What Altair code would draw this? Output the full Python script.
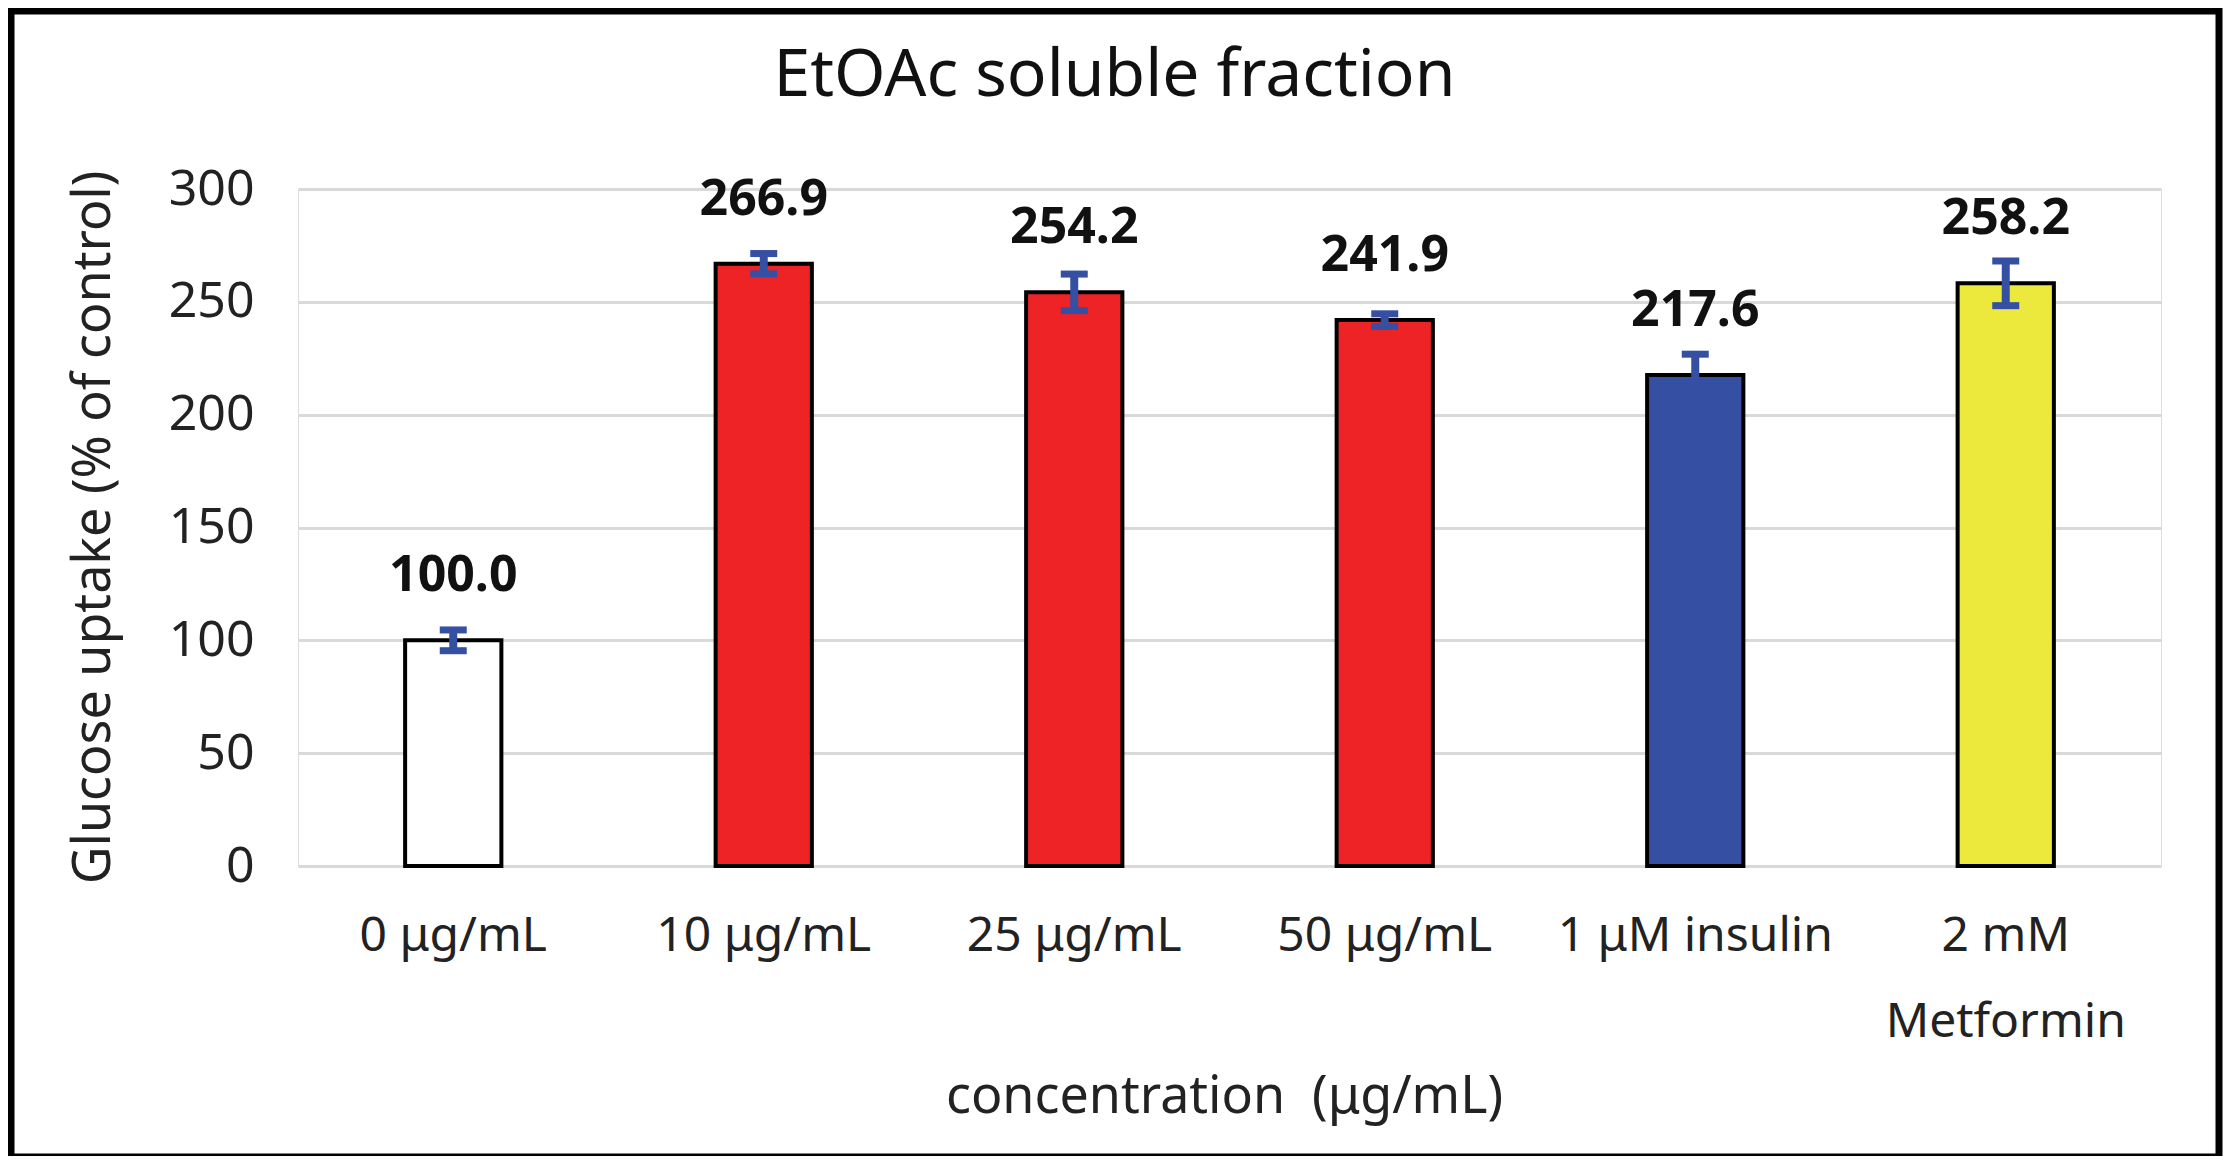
import altair as alt
import pandas as pd

categories = ["0 μg/mL", "10 μg/mL", "25 μg/mL", "50 μg/mL", "1 μM insulin", "2 mM Metformin"]
values = [100.0, 266.9, 254.2, 241.9, 217.6, 258.2]
errors = [4.6, 4.5, 8.1, 2.8, 9.2, 9.9]
bar_colors = ["#FFFFFF", "#EE2326", "#EE2326", "#EE2326", "#3550A3", "#EDE83C"]
y_ticks = [0, 50, 100, 150, 200, 250, 300]

df = pd.DataFrame({
    "cat": categories,
    "val": values,
    "lo": [v - e for v, e in zip(values, errors)],
    "hi": [v + e for v, e in zip(values, errors)],
    "label": [f"{v:.1f}" for v in values],
    "color": bar_colors,
})

FONT = "Noto Sans"
W, H = 1863, 677

x_enc = alt.X(
    "cat:N", sort=categories,
    scale=alt.Scale(paddingInner=0.69, paddingOuter=0.345),
    axis=alt.Axis(
        title="concentration\u00a0 (μg/mL)", labelAngle=0, domain=False, ticks=False,
        labelFontSize=48, labelFont=FONT, labelColor="#222222", labelPadding=46,
        labelLineHeight=86, labelBaseline="top", labelLimit=0,
        labelExpr="datum.label == '2 mM Metformin' ? ['2 mM', 'Metformin'] : datum.label",
        titleFontSize=52, titleFont=FONT, titleFontWeight="normal", titleColor="#222222",
        titleY=230, titleBaseline="middle", titleX=926,
    ),
)
y_scale = alt.Scale(domain=[0, 300], nice=False)

base = alt.Chart(df)

bars = base.mark_bar(stroke="#000000", strokeWidth=4).encode(
    x=x_enc,
    y=alt.Y("val:Q", scale=y_scale, axis=alt.Axis(
        values=y_ticks, title="Glucose uptake (% of control)", domain=False, ticks=False,
        grid=True, gridColor="#D9D9D9", gridWidth=3,
        labelFontSize=50, labelFont=FONT, labelColor="#222222", labelPadding=44,
        titleFontSize=52, titleFont=FONT, titleFontWeight="normal", titleColor="#222222",
        titleX=-205, titleY=338, titleBaseline="middle", titleAlign="center",
    )),
    fill=alt.Fill("color:N", scale=None),
)

stems = base.mark_rule(color="#3550A3", strokeWidth=8).encode(
    x=alt.X("cat:N", sort=categories), y=alt.Y("lo:Q", scale=y_scale), y2="hi:Q"
)
caps_hi = base.mark_tick(color="#3550A3", size=27, thickness=7, opacity=1).encode(
    x=alt.X("cat:N", sort=categories), y=alt.Y("hi:Q", scale=y_scale)
)
caps_lo = base.mark_tick(color="#3550A3", size=27, thickness=7, opacity=1).encode(
    x=alt.X("cat:N", sort=categories), y=alt.Y("lo:Q", scale=y_scale)
)
labels = base.mark_text(
    font=FONT, fontSize=50, fontWeight="bold", color="#111111", baseline="middle", dy=-64
).encode(
    x=alt.X("cat:N", sort=categories), y=alt.Y("val:Q", scale=y_scale), text="label:N"
)

frame = alt.Chart(pd.DataFrame({"a": [0]})).mark_rect(
    filled=False, stroke="#000000", strokeWidth=7
).encode(
    x=alt.value(-287), x2=alt.value(1921), y=alt.value(-178), y2=alt.value(968)
)

chart = alt.layer(frame, bars, stems, caps_hi, caps_lo, labels).properties(
    width=W, height=H,
    title=alt.TitleParams(
        "EtOAc soluble fraction", font=FONT, fontSize=66, fontWeight="normal",
        color="#111111", anchor="middle", dx=-115, offset=-134, baseline="middle",
    ),
    autosize=alt.AutoSizeParams(type="none"),
    padding={"left": 290, "top": 181, "right": 63, "bottom": 290},
).configure_view(stroke=None).configure(background="white")

chart.save("out.html", embed_options={"renderer": "svg", "actions": False})
